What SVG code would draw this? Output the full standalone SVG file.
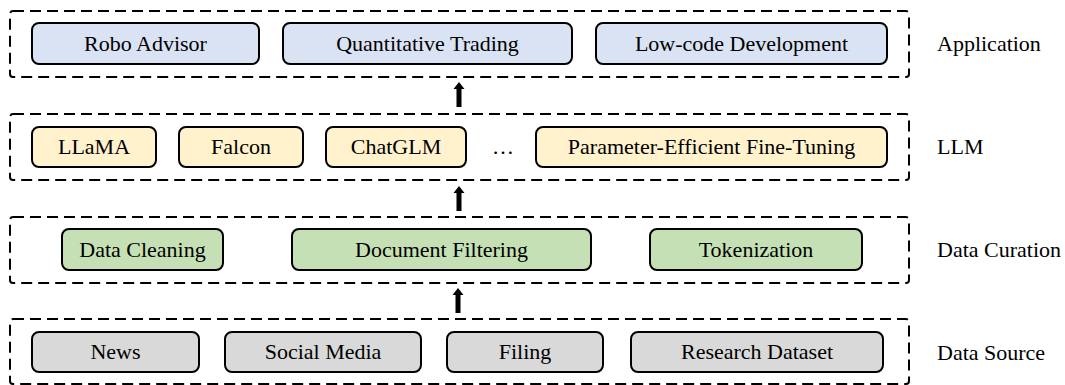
<svg xmlns="http://www.w3.org/2000/svg" width="1065" height="385" viewBox="0 0 1065 385">
<style>
.layer{fill:none;stroke:#000;stroke-width:2;stroke-dasharray:11 6;}
.box{stroke:#000;stroke-width:2;}
.app{fill:#DAE3F3;}
.llm{fill:#FFF2CC;}
.cur{fill:#C5E0B4;}
.src{fill:#D9D9D9;}
text{font-family:"Liberation Serif","Times New Roman",serif;font-size:22px;fill:#000;}
.c{text-anchor:middle;}
.arrow{fill:#000;}
</style>
<rect x="0" y="0" width="1065" height="385" fill="#fff"/>
<g id="layer-application">
<rect class="layer" x="10" y="11" width="899" height="66" rx="3"/>
<text x="937" y="51">Application</text>
</g>
<g id="node-robo"><rect class="box app" x="32" y="23" width="227" height="41" rx="7"/><text class="c" x="145.5" y="51">Robo Advisor</text></g>
<g id="node-quant"><rect class="box app" x="283" y="23" width="289" height="41" rx="7"/><text class="c" x="427.5" y="51">Quantitative Trading</text></g>
<g id="node-lowcode"><rect class="box app" x="596" y="23" width="291" height="41" rx="7"/><text class="c" x="741.5" y="51">Low-code Development</text></g>

<g id="layer-llm">
<rect class="layer" x="10" y="114" width="899" height="66" rx="3"/>
<text x="937" y="154">LLM</text>
</g>
<g id="node-llama"><rect class="box llm" x="32" y="127" width="124" height="40" rx="7"/><text class="c" x="94" y="154">LLaMA</text></g>
<g id="node-falcon"><rect class="box llm" x="179" y="127" width="124" height="40" rx="7"/><text class="c" x="241" y="154">Falcon</text></g>
<g id="node-chatglm"><rect class="box llm" x="326" y="127" width="140" height="40" rx="7"/><text class="c" x="396" y="154">ChatGLM</text></g>
<text class="c" x="503" y="154">…</text>
<g id="node-peft"><rect class="box llm" x="536" y="127" width="351" height="40" rx="7"/><text class="c" x="711.5" y="154">Parameter-Efficient Fine-Tuning</text></g>

<g id="layer-curation">
<rect class="layer" x="10" y="217" width="899" height="66" rx="3"/>
<text x="937" y="257">Data Curation</text>
</g>
<g id="node-cleaning"><rect class="box cur" x="62" y="229" width="161" height="41" rx="7"/><text class="c" x="142.5" y="257">Data Cleaning</text></g>
<g id="node-docfilter"><rect class="box cur" x="292" y="229" width="299" height="41" rx="7"/><text class="c" x="441.5" y="257">Document Filtering</text></g>
<g id="node-token"><rect class="box cur" x="650" y="229" width="212" height="41" rx="7"/><text class="c" x="756" y="257">Tokenization</text></g>

<g id="layer-source">
<rect class="layer" x="10" y="319" width="899" height="65" rx="3"/>
<text x="937" y="360">Data Source</text>
</g>
<g id="node-news"><rect class="box src" x="32" y="332" width="167" height="40" rx="7"/><text class="c" x="115.5" y="359">News</text></g>
<g id="node-social"><rect class="box src" x="225" y="332" width="196" height="40" rx="7"/><text class="c" x="323" y="359">Social Media</text></g>
<g id="node-filing"><rect class="box src" x="447" y="332" width="156" height="40" rx="7"/><text class="c" x="525" y="359">Filing</text></g>
<g id="node-research"><rect class="box src" x="631" y="332" width="252" height="40" rx="7"/><text class="c" x="757" y="359">Research Dataset</text></g>

<g id="connectors">
<path class="arrow" d="M459 82 L464.5 89 L461.5 89 L461.5 107 L456.5 107 L456.5 89 L453.5 89 Z"/>
<path class="arrow" d="M459 186 L464.5 193 L461.5 193 L461.5 211 L456.5 211 L456.5 193 L453.5 193 Z"/>
<path class="arrow" d="M458 288 L463.5 295 L460.5 295 L460.5 313 L455.5 313 L455.5 295 L452.5 295 Z"/>
</g>
</svg>
